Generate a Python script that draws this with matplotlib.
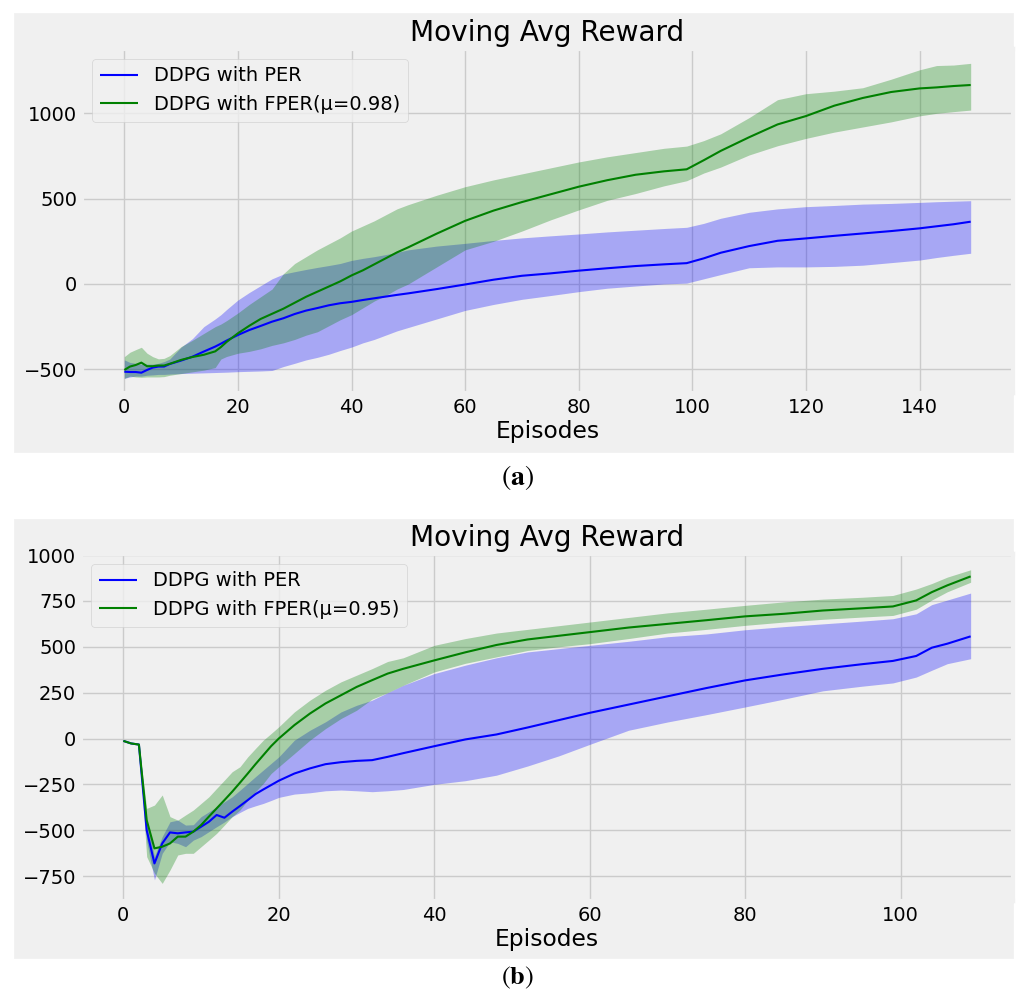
import numpy as np
import matplotlib
matplotlib.use("Agg")
import matplotlib.pyplot as plt
from matplotlib.patches import Rectangle

plt.style.use('fivethirtyeight')
plt.rcParams['font.size'] = 14
plt.rcParams['font.family'] = ['DejaVu Sans']
plt.rcParams['mathtext.fontset'] = 'stix'

# ---- panel (a): mu = 0.98, 150 episodes ----
ep_a = [0, 1, 2, 3, 4, 5, 6, 7, 8, 10, 12, 14, 16, 17, 18, 20, 22, 24, 26, 28,
        30, 32, 34, 36, 38, 40, 42, 44, 46, 48, 50, 55, 60, 65, 70, 75, 80, 85,
        90, 95, 99, 102, 105, 110, 115, 120, 125, 130, 135, 140, 143, 146, 149]

per_a = [-514, -516, -516, -520, -504, -490, -484, -484, -469, -449, -426, -396,
         -367, -350, -332, -299, -270, -246, -221, -201, -176, -156, -141, -125,
         -113, -105, -94, -84, -74, -64, -55, -30, -3, 25, 48, 62, 78, 92, 105,
         115, 122, 150, 183, 222, 253, 267, 282, 296, 310, 326, 338, 350, 365]
per_a_hi = [-445, -460, -465, -470, -470, -470, -465, -455, -440, -370, -320,
            -250, -205, -180, -150, -94, -50, -10, 30, 58, 72, 85, 97, 108, 120,
            138, 150, 160, 172, 185, 200, 222, 238, 255, 270, 282, 293, 305, 315,
            325, 332, 355, 385, 420, 440, 453, 460, 468, 472, 478, 482, 485, 488]
per_a_lo = [-553, -545, -540, -540, -535, -533, -530, -530, -528, -525, -523,
            -521, -519, -518, -517, -514, -512, -510, -507, -484, -465, -445,
            -430, -412, -390, -370, -345, -325, -300, -275, -255, -205, -155,
            -120, -90, -68, -45, -25, -12, 0, 5, 30, 55, 95, 100, 100, 103, 110,
            125, 140, 155, 168, 180]

fper_a = [-504, -484, -475, -461, -482, -482, -478, -478, -468, -445, -428,
          -415, -395, -370, -340, -289, -245, -205, -175, -145, -110, -75, -45,
          -15, 15, 50, 80, 115, 150, 185, 215, 295, 370, 430, 480, 525, 570,
          608, 640, 660, 672, 725, 780, 860, 935, 984, 1045, 1090, 1125, 1146,
          1152, 1160, 1166]
fper_a_hi = [-426, -400, -385, -371, -406, -426, -439, -436, -420, -367, -330,
             -290, -250, -235, -215, -170, -120, -75, -30, 60, 120, 160, 200,
             235, 270, 310, 340, 370, 405, 440, 465, 520, 570, 610, 645, 680,
             715, 745, 770, 795, 808, 840, 880, 975, 1080, 1115, 1130, 1150,
             1200, 1255, 1280, 1283, 1293]
fper_a_lo = [-553, -540, -545, -547, -545, -545, -545, -543, -535, -525, -515,
             -505, -490, -440, -425, -406, -395, -380, -360, -345, -325, -300,
             -280, -245, -210, -180, -140, -100, -68, -30, 0, 100, 200, 250,
             310, 375, 434, 490, 530, 575, 605, 650, 685, 756, 810, 853, 890,
             920, 950, 985, 1000, 1010, 1019]

# ---- panel (b): mu = 0.95, 110 episodes ----
ep_b = [0, 1, 2, 3, 4, 5, 6, 7, 8, 9, 10, 11, 12, 13, 14, 15, 16, 17, 18, 19,
        20, 22, 24, 26, 28, 30, 32, 34, 36, 40, 44, 48, 52, 56, 60, 65, 70, 75,
        80, 85, 90, 95, 99, 102, 104, 106, 109]

per_b = [-13, -27, -33, -500, -681, -572, -512, -517, -512, -508, -481, -454,
         -417, -432, -399, -368, -336, -303, -278, -254, -230, -191, -163, -140,
         -129, -122, -118, -100, -80, -42, -5, 22, 60, 100, 140, 185, 230, 275,
         317, 350, 380, 405, 423, 450, 495, 517, 557]
per_b_hi = [-13, -27, -33, -440, -644, -535, -454, -445, -472, -470, -426,
            -400, -372, -345, -318, -282, -245, -208, -172, -136, -100, -9, 45,
            91, 145, 181, 209, 250, 290, 354, 400, 440, 472, 490, 508, 530, 555,
            570, 593, 610, 625, 640, 653, 680, 730, 755, 793]
per_b_lo = [-13, -27, -33, -560, -771, -626, -563, -572, -590, -554, -535,
            -508, -481, -455, -426, -403, -381, -367, -354, -338, -321, -303,
            -296, -285, -281, -285, -290, -285, -278, -250, -230, -200, -150,
            -95, -32, 45, 90, 130, 172, 215, 260, 285, 303, 335, 372, 408, 435]

fper_b = [-13, -27, -33, -445, -599, -590, -572, -535, -535, -508, -472, -426,
          -381, -336, -290, -241, -191, -140, -91, -42, 0, 73, 136, 191, 236,
          281, 318, 354, 380, 426, 470, 510, 540, 560, 580, 605, 625, 645, 666,
          680, 698, 710, 720, 753, 798, 835, 884]
fper_b_hi = [-13, -27, -33, -381, -363, -308, -426, -445, -417, -390, -354,
             -318, -272, -227, -181, -154, -100, -54, -9, 27, 64, 145, 209, 263,
             309, 345, 381, 420, 440, 508, 545, 575, 595, 615, 635, 660, 685,
             705, 726, 745, 760, 770, 780, 815, 845, 880, 920]
fper_b_lo = [-13, -27, -33, -644, -735, -790, -717, -635, -626, -626, -590,
             -554, -517, -472, -426, -390, -336, -290, -245, -191, -154, -82,
             -9, 54, 109, 154, 215, 250, 290, 363, 410, 445, 480, 500, 517, 545,
             575, 595, 617, 635, 650, 662, 671, 705, 755, 800, 852]

W, H = 1021, 994
fig = plt.figure(figsize=(W / 100, H / 100), dpi=100, facecolor='white')

# grey panel backgrounds (two stacked figures), kept behind the axes
for top, bot in [(13, 452), (519, 958)]:
    fig.patches.append(Rectangle((14 / W, 1 - bot / H), 999 / W, (bot - top) / H,
                                 transform=fig.transFigure, color='#f0f0f0', zorder=-10))


def draw(ax, ep, per, per_hi, per_lo, fper, fper_hi, fper_lo, mu):
    ax.fill_between(ep, per_lo, per_hi, color='blue', alpha=0.3, lw=0)
    ax.fill_between(ep, fper_lo, fper_hi, color='green', alpha=0.3, lw=0)
    ax.plot(ep, per, color='blue', lw=1.5, label='DDPG with PER')
    ax.plot(ep, fper, color='green', lw=1.5, label='DDPG with FPER(\u03bc=%s)' % mu)
    ax.set_title('Moving Avg Reward', pad=6)
    ax.set_xlabel('Episodes', labelpad=2)
    ax.legend(loc='upper left')


ax1 = fig.add_axes([82 / W, 1 - 393 / H, 931 / W, 344 / H])
draw(ax1, ep_a, per_a, per_a_hi, per_a_lo, fper_a, fper_a_hi, fper_a_lo, '0.98')
ax1.set_xlim(-7.45, 156.45)
ax1.set_ylim(-639, 1377)
ax1.set_yticks([-500, 0, 500, 1000])

ax2 = fig.add_axes([81 / W, 1 - 901 / H, 932 / W, 347 / H])
draw(ax2, ep_b, per_b, per_b_hi, per_b_lo, fper_b, fper_b_hi, fper_b_lo, '0.95')
ax2.set_xlim(-5.45, 114.45)
ax2.set_ylim(-886, 1006)
ax2.set_yticks([-750, -500, -250, 0, 250, 500, 750, 1000])

fig.text(517 / W, 1 - 478 / H, r'$(\mathbf{a})$', ha='center', va='center', fontsize=20)
fig.text(517 / W, 1 - 978 / H, r'$(\mathbf{b})$', ha='center', va='center', fontsize=19)

fig.savefig('out.png', dpi=100, facecolor='white')
